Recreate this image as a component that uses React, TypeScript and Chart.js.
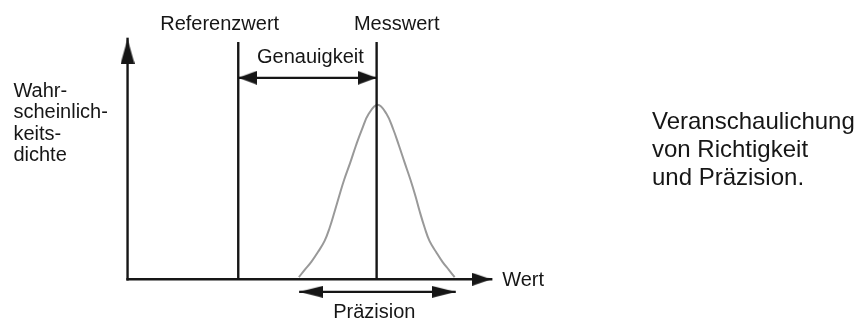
import { useEffect, useRef } from "react";
import { Chart, registerables } from "chart.js";

Chart.register(...registerables);

// ---- Values (x: "Wert" units, y: relative probability density) ----
const referenzwert = 4.0;
const messwert = 9.0;
const markerTop = 1.36;
const yAxisTop = 1.378;
const xAxisEnd = 13.14;
const genauigkeitLevel = 1.155;
const praezisionLevel = -0.072;
const praezisionFrom = 6.2;
const praezisionTo = 11.86;

// density curve
const curveX = [6.19, 6.4, 6.64, 6.88, 7.12, 7.3, 7.48, 7.65, 7.83, 8.05, 8.26, 8.47, 8.72, 9.04, 9.35, 9.6, 9.8, 10.01, 10.22, 10.4, 10.56, 10.74, 10.91, 11.15, 11.38, 11.61, 11.82];
const curveY = [0.012, 0.054, 0.1, 0.156, 0.22, 0.294, 0.387, 0.479, 0.572, 0.67, 0.77, 0.86, 0.95, 1.0, 0.95, 0.86, 0.77, 0.67, 0.572, 0.479, 0.387, 0.294, 0.22, 0.156, 0.1, 0.054, 0.012];

// texts
const markerLabels = ["Referenzwert", "Messwert"];
const genauigkeitLabel = "Genauigkeit";
const praezisionLabel = "Präzision";
const xAxisTitle = "Wert";
const yAxisTitleLines = ["Wahr-", "scheinlich-", "keits-", "dichte"];
const captionLines = ["Veranschaulichung", "von Richtigkeit", "und Präzision."];

const FONT = '"Liberation Sans", Arial, Helvetica, sans-serif';
const INK = "#161616";

function makeHead(len: number, width: number): HTMLCanvasElement {
  const c = document.createElement("canvas");
  c.width = len * 2;
  c.height = width;
  const g = c.getContext("2d")!;
  g.fillStyle = INK;
  g.beginPath();
  g.moveTo(0, 0);
  g.lineTo(len, width / 2);
  g.lineTo(0, width);
  g.closePath();
  g.fill();
  return c;
}

export default function App() {
  const ref = useRef<HTMLCanvasElement | null>(null);

  useEffect(() => {
    if (!ref.current) return;
    const headY = makeHead(25, 14);
    const headX = makeHead(19, 13);
    const headG = makeHead(19, 14);
    const headP = makeHead(24, 12);

    const textLabels = [
      { text: markerLabels[0], x: 1.179, y: 1.428, size: 20 },
      { text: markerLabels[1], x: 8.179, y: 1.428, size: 20 },
      { text: genauigkeitLabel, x: 4.679, y: 1.239, size: 20 },
      { text: xAxisTitle, x: 13.536, y: -0.039, size: 20 },
      { text: praezisionLabel, x: 7.429, y: -0.219, size: 20 },
      ...yAxisTitleLines.map((t, i) => ({ text: t, x: -4.125, y: 1.044 - i * 0.1222, size: 20 })),
      ...captionLines.map((t, i) => ({ text: t, x: 18.95, y: 0.861 - i * 0.161, size: 24 })),
    ];

    const textPlugin = {
      id: "diagramText",
      afterDatasetsDraw(chart: any) {
        const { ctx, scales } = chart;
        ctx.save();
        ctx.fillStyle = INK;
        ctx.textAlign = "left";
        ctx.textBaseline = "alphabetic";
        for (const l of textLabels) {
          ctx.font = `${l.size}px ${FONT}`;
          ctx.fillText(l.text, scales.x.getPixelForValue(l.x), scales.y.getPixelForValue(l.y));
        }
        ctx.restore();
      },
    };

    const base = {
      type: "line" as const,
      showLine: true,
      borderColor: INK,
      backgroundColor: INK,
      borderWidth: 2.4,
      fill: false,
      clip: false as any,
      pointBorderWidth: 0,
      tension: 0,
    };

    const chart = new Chart(ref.current, {
      type: "line",
      data: {
        datasets: [
          {
            ...base,
            label: "Messwert",
            data: [{ x: messwert, y: 0 }, { x: messwert, y: markerTop }],
            pointRadius: 0,
            order: 1,
          },
          {
            ...base,
            label: "Referenzwert",
            data: [{ x: referenzwert, y: 0 }, { x: referenzwert, y: markerTop }],
            pointRadius: 0,
            order: 1,
          },
          {
            ...base,
            label: "Dichte",
            data: curveX.map((x, i) => ({ x, y: curveY[i] })),
            borderColor: "#999999",
            borderWidth: 2,
            pointRadius: 0,
            tension: 0.4,
            order: 2,
          },
          {
            ...base,
            label: "y-Achse",
            data: [{ x: 0, y: 0 }, { x: 0, y: yAxisTop }],
            borderCapStyle: "square",
            pointRadius: [0, 5],
            pointStyle: headY,
            pointRotation: -90,
            order: 0,
          },
          {
            ...base,
            label: "x-Achse",
            data: [{ x: 0, y: 0 }, { x: xAxisEnd, y: 0 }],
            borderCapStyle: "square",
            pointRadius: [0, 5],
            pointStyle: headX,
            pointRotation: 0,
            order: 0,
          },
          {
            ...base,
            label: "Genauigkeit",
            data: [{ x: referenzwert, y: genauigkeitLevel }, { x: messwert, y: genauigkeitLevel }],
            borderWidth: 2.2,
            pointRadius: [5, 5],
            pointStyle: headG,
            pointRotation: [180, 0],
            order: 0,
          },
          {
            ...base,
            label: "Präzision",
            data: [{ x: praezisionFrom, y: praezisionLevel }, { x: praezisionTo, y: praezisionLevel }],
            borderWidth: 2.2,
            pointRadius: [5, 5],
            pointStyle: headP,
            pointRotation: [180, 0],
            order: 0,
          },
        ] as any,
      },
      options: {
        responsive: false,
        animation: false,
        events: [],
        layout: { padding: 0 },
        plugins: { legend: { display: false }, tooltip: { enabled: false }, title: { display: false } },
        scales: {
          x: { type: "linear", display: false, min: -4.4286, max: 26.214 },
          y: { type: "linear", display: false, min: -0.2333, max: 1.5722 },
        },
      },
      plugins: [textPlugin],
    });
    return () => chart.destroy();
  }, []);

  return (
    <div style={{ position: "absolute", left: 0, top: 0, width: 858, height: 325, background: "#fff" }}>
      <canvas ref={ref} width={858} height={325} style={{ display: "block" }} />
    </div>
  );
}
